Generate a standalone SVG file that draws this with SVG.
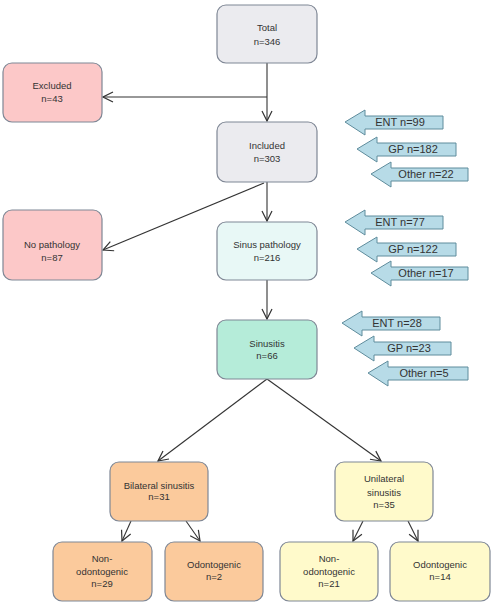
<svg xmlns="http://www.w3.org/2000/svg" width="500" height="609" viewBox="0 0 500 609">
<defs>
<marker id="ah" viewBox="0 0 12 12" refX="11" refY="6" markerWidth="12" markerHeight="12" markerUnits="userSpaceOnUse" orient="auto">
<path d="M1,1 L11,6 L1,11" fill="none" stroke="#333" stroke-width="1.2"/>
</marker>
</defs>
<style>
text{font-family:"Liberation Sans",Arial,sans-serif;font-size:9.5px;fill:#333;text-anchor:middle}
.box{stroke:#7f8795;stroke-width:1.2}
.gray{fill:#ebebef}
.pink{fill:#fcc8c8}
.cyan{fill:#e8f8f6}
.mint{fill:#b5ecd9}
.orange{fill:#fbca9c}
.yellow{fill:#fffacb}
.conn line{stroke:#333;stroke-width:1.1;marker-end:url(#ah)}
.src path{fill:#b7dbe7;stroke:#5f8c9c;stroke-width:1}
.src text{font-size:11px}
</style>
<g id="connectors" class="conn">
<line x1="267" y1="63" x2="267" y2="121"/>
<line x1="267" y1="97" x2="103" y2="97"/>
<line x1="267" y1="182" x2="267" y2="221"/>
<line x1="264" y1="183" x2="103" y2="250"/>
<line x1="267" y1="280" x2="267" y2="319"/>
<line x1="267" y1="379" x2="158" y2="461"/>
<line x1="267" y1="379" x2="381" y2="461"/>
<line x1="131" y1="521" x2="122" y2="541"/>
<line x1="186" y1="521" x2="200" y2="541"/>
<line x1="363" y1="521" x2="353" y2="541"/>
<line x1="408" y1="521" x2="418" y2="541"/>
</g>
<g id="total"><rect class="box gray" x="217" y="5" width="100" height="58" rx="9"/><text x="267" y="31">Total</text><text x="267" y="45">n=346</text></g>
<g id="excluded"><rect class="box pink" x="3" y="63" width="99" height="59" rx="9"/><text x="52" y="89">Excluded</text><text x="52" y="102">n=43</text></g>
<g id="included"><rect class="box gray" x="217" y="122" width="100" height="60" rx="9"/><text x="267" y="149">Included</text><text x="267" y="162">n=303</text></g>
<g id="nopathology"><rect class="box pink" x="3" y="210" width="99" height="70" rx="9"/><text x="52" y="248">No pathology</text><text x="52" y="261">n=87</text></g>
<g id="sinuspathology"><rect class="box cyan" x="217" y="222" width="100" height="58" rx="9"/><text x="267" y="248">Sinus pathology</text><text x="267" y="261">n=216</text></g>
<g id="sinusitis"><rect class="box mint" x="217" y="320" width="100" height="59" rx="9"/><text x="267" y="347">Sinusitis</text><text x="267" y="359">n=66</text></g>
<g id="bilateral"><rect class="box orange" x="110" y="462" width="98" height="59" rx="9"/><text x="159" y="489">Bilateral sinusitis</text><text x="159" y="500">n=31</text></g>
<g id="unilateral"><rect class="box yellow" x="335" y="462" width="98" height="59" rx="9"/><text x="384" y="482">Unilateral</text><text x="384" y="496">sinusitis</text><text x="384" y="508">n=35</text></g>
<g id="bi-nonodontogenic"><rect class="box orange" x="53" y="542" width="99" height="59" rx="9"/><text x="102" y="562">Non-</text><text x="102" y="575">odontogenic</text><text x="102" y="587">n=29</text></g>
<g id="bi-odontogenic"><rect class="box orange" x="165" y="542" width="98" height="59" rx="9"/><text x="214" y="568">Odontogenic</text><text x="214" y="580">n=2</text></g>
<g id="uni-nonodontogenic"><rect class="box yellow" x="280" y="542" width="98" height="59" rx="9"/><text x="329" y="562">Non-</text><text x="329" y="575">odontogenic</text><text x="329" y="587">n=21</text></g>
<g id="uni-odontogenic"><rect class="box yellow" x="390" y="542" width="100" height="59" rx="9"/><text x="440" y="568">Odontogenic</text><text x="440" y="580">n=14</text></g>
<g id="sources1" class="src">
<path d="M345,122 L365,110 L365,116 L443,116 L443,129 L365,129 L365,135 Z"/><text x="400" y="126">ENT n=99</text>
<path d="M357,149 L377,137 L377,143 L456,143 L456,156 L377,156 L377,162 Z"/><text x="413" y="153">GP n=182</text>
<path d="M371,174 L391,162 L391,168 L468,168 L468,181 L391,181 L391,187 Z"/><text x="426" y="178">Other n=22</text>
</g>
<g id="sources2" class="src">
<path d="M345,222 L365,210 L365,216 L443,216 L443,229 L365,229 L365,235 Z"/><text x="400" y="226">ENT n=77</text>
<path d="M357,249 L377,237 L377,243 L456,243 L456,256 L377,256 L377,262 Z"/><text x="413" y="253">GP n=122</text>
<path d="M371,273 L391,261 L391,267 L468,267 L468,280 L391,280 L391,286 Z"/><text x="426" y="277">Other n=17</text>
</g>
<g id="sources3" class="src">
<path d="M342,323 L362,311 L362,317 L440,317 L440,330 L362,330 L362,336 Z"/><text x="397" y="327">ENT n=28</text>
<path d="M354,348 L374,336 L374,342 L451,342 L451,355 L374,355 L374,361 Z"/><text x="409" y="352">GP n=23</text>
<path d="M368,373 L388,361 L388,367 L468,367 L468,380 L388,380 L388,386 Z"/><text x="424" y="377">Other n=5</text>
</g>
</svg>
